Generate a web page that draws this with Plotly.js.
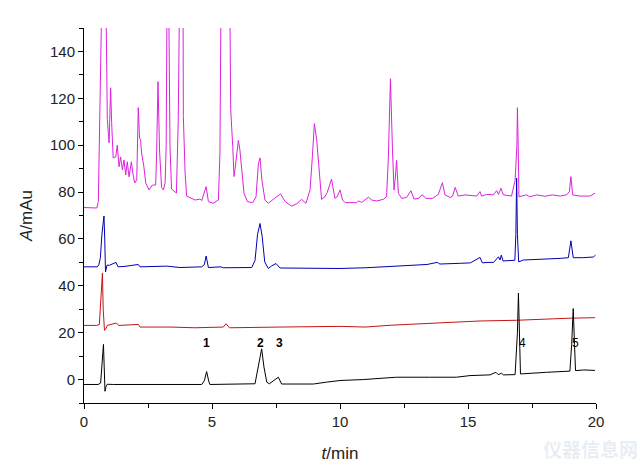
<!DOCTYPE html>
<html>
<head>
<meta charset="utf-8">
<script src="https://cdn.plot.ly/plotly-3.0.1.min.js"></script>
<style>html,body{margin:0;padding:0;background:#fff;}#chart{width:640px;height:476px;}</style>
</head>
<body>
<div id="chart"></div>
<script>
// ---- data (t in min, A in mAu) ----
const tA = [0,0.50,0.56,0.59,0.62,0.68,0.80,0.86,0.885,0.91,0.98,1.04,1.08,1.14,1.24,1.30,1.37,1.43,1.50,1.56,1.63,1.69,1.76,1.85,1.93,1.98,2.06,2.12,2.17,2.21,2.25,2.34,2.41,2.54,2.67,2.80,2.84,2.89,2.95,3.03,3.10,3.17,3.21,3.25,3.28,3.31,3.36,3.42,3.61,3.68,3.72,3.80,3.87,3.88,3.95,4.01,4.34,4.53,4.60,4.77,4.86,5.05,5.25,5.31,5.35,5.40,5.65,5.69,5.73,5.81,5.86,5.93,6.03,6.09,6.16,6.25,6.38,6.59,6.72,6.81,6.875,6.95,7.07,7.20,7.46,7.68,7.85,8.11,8.31,8.50,8.67,8.83,8.92,9.00,9.09,9.19,9.28,9.41,9.50,9.67,9.80,9.89,10.00,10.10,10.20,10.65,10.72,10.85,11.11,11.24,11.43,11.69,11.82,11.89,11.97,12.05,12.11,12.16,12.21,12.28,12.41,12.60,12.77,12.89,13.06,13.21,13.36,13.62,13.84,14.00,14.10,14.30,14.40,14.50,14.62,14.88,15.34,15.47,15.53,15.73,15.99,16.12,16.19,16.29,16.38,16.70,16.84,16.91,16.93,16.96,16.99,17.29,17.40,17.70,18.00,18.30,18.60,18.85,18.96,19.02,19.09,19.38,19.77,19.96];
const yA = [73.4,73.2,76,96.7,136,230,230,160,127,111,101,124.5,109.6,94.6,95,100,90.8,95,89.5,93.7,87.3,92.9,86.5,92.9,86.5,83.9,85.2,116,103,102.3,96.7,90.8,83.9,80.9,83,83,98,127.1,98,82,80.9,84,100,180,230,160,98.9,81.3,79.6,110,200,230,160,112.3,88,78.3,76.6,77,76.4,82.3,75.9,75.2,76.6,96.7,160,230,230,160,115.2,99.4,86.6,92.5,102,98,90.9,79.5,75.9,75.5,78,92,94.6,85,76.6,75.2,77.5,79.2,76,74,75,76.9,75.2,80.9,95,109.2,102.3,86.6,76.9,78,79.8,85.5,77.3,78,80.9,76.6,75.5,75.5,76.2,75.6,77.8,76.6,76.2,76.9,78,95,128.4,98,80.9,86,93.5,79.5,77.3,77.7,80.6,77,77.3,78.8,77.3,77.3,79,84,78.8,77.7,78.3,82,78.3,78.8,78.3,80.2,78.3,79,78.8,80.6,79,81.6,78.8,78.3,85,100,116,100,78,78.8,78,78.8,78.2,78.8,78.3,78.8,80.2,86.6,78.8,78.3,78.3,79.5];

const tB = [0,0.52,0.58,0.64,0.70,0.78,0.81,0.84,0.90,1.00,1.25,1.33,1.60,2.12,2.19,2.78,3.23,3.75,4.60,4.70,4.77,4.86,5.35,5.44,6.55,6.68,6.78,6.875,6.96,7.06,7.20,7.33,7.50,7.66,10.00,11.00,12.08,12.60,13.40,13.80,13.90,14.70,15.10,15.47,15.56,15.74,16.00,16.19,16.25,16.30,16.37,16.83,16.87,16.90,16.93,16.98,17.16,18.60,18.92,19.02,19.11,19.50,19.90,19.98];
const yB = [48.1,48.1,49,52,62,69.8,60,45.9,48.8,48.8,50,48.1,48.3,49.1,48.1,48.1,48.4,47.8,48.1,49,52.7,47.8,48.1,47.7,47.8,50.8,62,66.6,61,50.2,47.4,48.5,49.5,47.6,47.4,47.7,48.4,48.8,49.1,50,49.3,49.6,49.8,52.1,49.8,50,50,52.4,51,53.1,50.6,50.9,62,85.9,62,50.2,51,51.7,52,59.2,52,52,52.3,53.1];

const tC = [0,0.50,0.60,0.68,0.72,0.75,0.80,0.85,0.91,1.26,1.36,2.12,2.19,3.36,4.34,5.44,5.55,5.68,6.62,7.66,10.00,11.00,12.00,13.97,15.47,16.90,18.20,19.00,19.96];
const yC = [23.1,23.1,23.5,40,45.5,30,21,21.5,23.1,24.1,23.1,23.5,22.4,22.4,22.1,22.4,23.8,22.1,22.1,22.4,22.7,22.4,23.2,24.3,25,25.3,26,26.2,26.4];

const tD = [0,0.55,0.65,0.72,0.76,0.79,0.82,0.86,0.91,1.15,2.45,4.60,4.70,4.79,4.88,4.92,6.68,6.81,6.94,7.03,7.14,7.24,7.45,7.59,7.72,8.96,9.48,10.00,10.91,12.20,13.50,14.54,15.08,15.86,16.09,16.18,16.31,16.38,16.84,16.93,16.97,17.00,17.05,18.07,18.98,19.05,19.11,19.16,19.20,19.52,19.96];
const yD = [-2.1,-2.1,-1.5,8,15,5,-5,-3,-2,-2.1,-2.1,-2.1,-0.5,3.4,-1,-2.1,-1.8,5.3,13.1,5.3,-1.1,-1.8,0,1.0,-1.9,-1.9,-1.1,-0.4,0,1.0,1.0,1.0,1.7,2.0,3.1,2.1,2.7,2.0,2.1,20,36.9,20,2.4,3.1,3.6,15,30.3,15,3.8,4.1,3.9];

const traceNames = ['a','b','c','d'];
const traceLabelY = [86, 55.7, 24.8, 4.7];
const peakNames = ['1','2','3','4','5'];
const peakTimes = [4.77, 6.91, 7.63, 17.14, 19.18];
const peakLabelY = 15.4;

// ---- chart ----
const colors = ['#dc22dc','#0000b4','#c41414','#000000'];
const ts = [tA,tB,tC,tD], ys = [yA,yB,yC,yD];
const data = ts.map((t,i)=>({
  x:t, y:ys[i], type:'scatter', mode:'lines', name:traceNames[i],
  line:{color:colors[i], width:1}, hoverinfo:'skip'
}));

const annotations = [];
traceNames.forEach((n,i)=>annotations.push({
  x:20.3, y:traceLabelY[i], xref:'x', yref:'y', text:'<b>'+n+'</b>', showarrow:false,
  xanchor:'center', yanchor:'middle', font:{family:'Liberation Sans, Arial, sans-serif', size:9, color:'#000'}
}));
peakNames.forEach((n,i)=>annotations.push({
  x:peakTimes[i], y:peakLabelY, xref:'x', yref:'y', text:(i<3?'<b>'+n+'</b>':n), showarrow:false,
  xanchor:'center', yanchor:'middle', font:{family:'Liberation Sans, Arial, sans-serif', size:12, color:'#000'}
}));
annotations.push({
  x:0.99, y:-0.12, xref:'paper', yref:'paper', xanchor:'center', yanchor:'middle',
  text:'<b>仪器信息网</b>', showarrow:false,
  font:{family:'Noto Sans CJK SC', size:19, color:'rgba(150,175,205,0.22)'}
});

const tickFont = {family:'Liberation Sans, Arial, sans-serif', size:15, color:'#222'};
const layout = {
  width:640, height:476,
  margin:{l:84, r:44, t:28, b:73},
  paper_bgcolor:'#fff', plot_bgcolor:'#fff',
  showlegend:false,
  xaxis:{
    range:[0,20], dtick:5, tick0:0, showline:true, linecolor:'#000', linewidth:1,
    ticks:'outside', ticklen:5, tickcolor:'#000', showgrid:false, zeroline:false,
    minor:{dtick:2.5, ticks:'outside', ticklen:4, tickcolor:'#000', showgrid:false},
    tickfont:tickFont,
    title:{text:'<i>t</i>/min', font:{family:'Liberation Sans, Arial, sans-serif', size:17, color:'#222'}, standoff:18}
  },
  yaxis:{
    range:[-10,150], dtick:20, tick0:0, showline:true, linecolor:'#000', linewidth:1,
    ticks:'outside', ticklen:5, tickcolor:'#000', showgrid:false, zeroline:false,
    minor:{dtick:10, ticks:'outside', ticklen:4, tickcolor:'#000', showgrid:false},
    tickfont:tickFont,
    title:{text:'<i>A</i>/mAu', font:{family:'Liberation Sans, Arial, sans-serif', size:17, color:'#222'}, standoff:13}
  },
  annotations:annotations
};
Plotly.newPlot('chart', data, layout, {staticPlot:true, displayModeBar:false});
</script>
</body>
</html>
